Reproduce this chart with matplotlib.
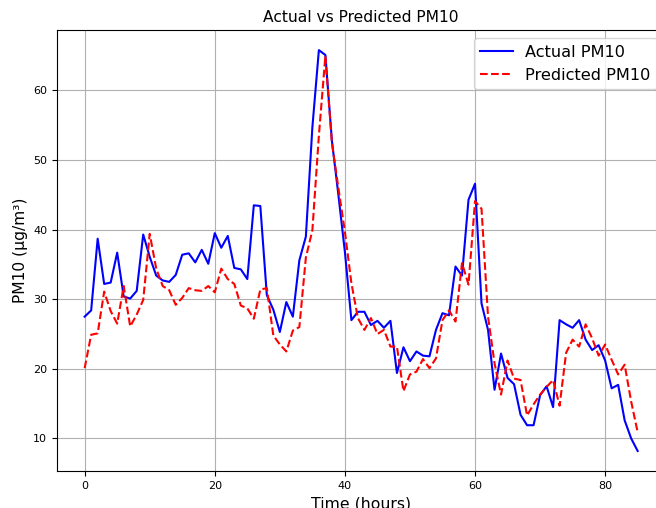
"""Actual vs Predicted PM10"""

import matplotlib
matplotlib.use('Agg')
import matplotlib.pyplot as plt
import numpy as np

# Valores (hora 0 a 85)
hours = np.arange(86)

actual_pm10 = [
    27.5, 28.4, 38.7, 32.2, 32.4, 36.7, 30.4, 30.1, 31.2, 39.3,
    36.1, 33.4, 32.7, 32.5, 33.5, 36.4, 36.6, 35.3, 37.1, 35.1,
    39.5, 37.4, 39.1, 34.5, 34.3, 32.9, 43.5, 43.4, 30.6, 28.5,
    25.3, 29.6, 27.5, 35.6, 39.0, 54.7, 65.8, 65.1, 52.8, 45.0,
    36.8, 27.0, 28.2, 28.2, 26.3, 26.9, 25.9, 26.9, 19.4, 23.1,
    21.1, 22.5, 21.9, 21.8, 25.6, 28.0, 27.7, 34.7, 33.4, 44.3,
    46.6, 29.4, 25.6, 17.0, 22.2, 18.7, 17.8, 13.4, 11.9, 11.9,
    16.2, 17.5, 14.5, 27.0, 26.4, 25.9, 27.0, 24.2, 22.7, 23.4,
    21.2, 17.2, 17.7, 12.6, 10.0, 8.2,
]

predicted_pm10 = [
    20.1, 24.9, 25.1, 31.1, 28.3, 26.5, 31.9, 26.1, 27.8, 29.9,
    39.4, 34.4, 31.9, 31.3, 29.2, 30.2, 31.6, 31.3, 31.2, 31.9,
    31.0, 34.4, 32.9, 32.2, 29.1, 28.7, 27.2, 31.4, 31.6, 24.8,
    23.5, 22.5, 25.5, 26.0, 36.0, 39.9, 53.5, 65.0, 52.5, 46.0,
    39.7, 32.3, 27.3, 25.6, 27.3, 25.0, 25.6, 23.2, 23.2, 16.8,
    19.2, 19.6, 21.4, 20.1, 21.5, 27.0, 28.4, 26.8, 35.2, 32.1,
    44.1, 43.0, 27.5, 20.8, 16.3, 21.2, 18.6, 18.4, 13.3, 14.9,
    16.3, 17.4, 18.4, 14.7, 22.3, 24.2, 23.2, 26.4, 24.4, 21.9,
    23.5, 21.3, 19.2, 20.6, 15.3, 10.9,
]

fig = plt.figure(figsize=(6.56, 5.08), dpi=100)
# eixos maiores que a figura à direita (imagem original recortada)
ax = fig.add_axes([0.0869, 0.0728, 0.9273, 0.868])

ax.plot(hours, actual_pm10, color='blue', linewidth=1.5, label='Actual PM10')
ax.plot(hours, predicted_pm10, color='red', linestyle='--', linewidth=1.5,
        label='Predicted PM10')

ax.set_title('Actual vs Predicted PM10', fontsize=11.2)
ax.set_xlabel('Time (hours)', fontsize=11.3)
ax.set_ylabel('PM10 (µg/m³)', fontsize=11.2)
ax.tick_params(labelsize=8)
ax.grid(True)
ax.legend(loc='upper right', fontsize=11.6)

plt.savefig('out.png', dpi=100)
plt.close()
